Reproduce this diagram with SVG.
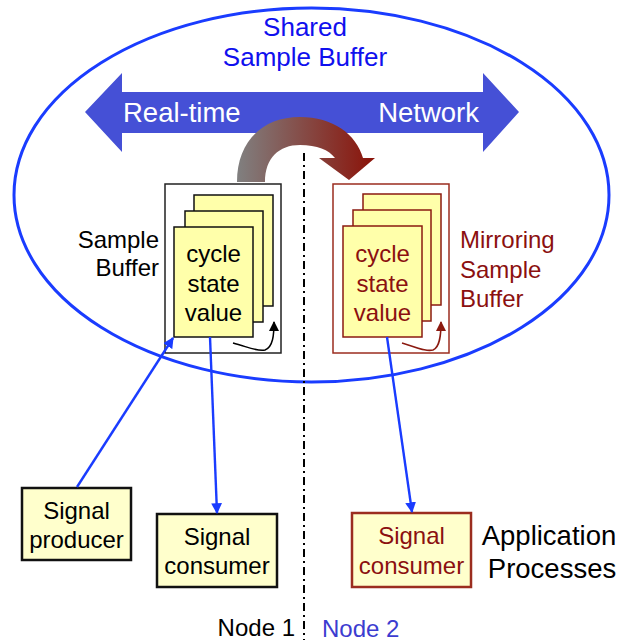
<svg xmlns="http://www.w3.org/2000/svg" width="628" height="644" viewBox="0 0 628 644">
<style>
text{font-family:"Liberation Sans",Arial,sans-serif;}
.t24{font-size:24px;}
.t27{font-size:27.5px;}
.blk{fill:#000;}
.red{fill:#8b1010;}
.card{fill:#ffffaa;stroke:#111;stroke-width:1.5;}
.cardr{fill:#ffffaa;stroke:#8b1a10;stroke-width:1.5;}
.proc{fill:#ffffcc;stroke:#111;stroke-width:2.5;}
.procr{fill:#ffffcc;stroke:#9b2d1f;stroke-width:2.5;}
.conn{stroke:#1a3cff;stroke-width:2.4;fill:none;marker-end:url(#ab);}
</style>
<defs>
<marker id="ab" viewBox="0 0 10 10" refX="9" refY="5" markerWidth="4.5" markerHeight="4.5" orient="auto" markerUnits="strokeWidth"><path d="M0,0 L10,5 L0,10 Z" fill="#1a3cff"/></marker>
<marker id="ak" viewBox="0 0 10 10" refX="9" refY="5" markerWidth="7" markerHeight="7" orient="auto" markerUnits="strokeWidth"><path d="M0,0 L10,5 L0,10 Z" fill="#000"/></marker>
<marker id="ar" viewBox="0 0 10 10" refX="9" refY="5" markerWidth="7" markerHeight="7" orient="auto" markerUnits="strokeWidth"><path d="M0,0 L10,5 L0,10 Z" fill="#8b1a10"/></marker>
<linearGradient id="gr" gradientUnits="userSpaceOnUse" x1="237" y1="0" x2="375" y2="0">
<stop offset="0" stop-color="#808080"/><stop offset="1" stop-color="#8b1208"/>
</linearGradient>
</defs>

<g id="shared-buffer">
<ellipse cx="311.5" cy="195" rx="297.5" ry="187" fill="none" stroke="#1a3cff" stroke-width="3"/>
<text x="305" y="36" text-anchor="middle" fill="#1010ee" font-size="26">Shared</text>
<text x="305" y="65.5" text-anchor="middle" fill="#1010ee" font-size="26">Sample Buffer</text>
</g>

<g id="double-arrow">
<polygon points="85,112 122,73 122,92 483,92 483,73 519,112 483,152 483,133 122,133 122,152" fill="#4550d6"/>
<text class="t27" x="123" y="122" fill="#fff">Real-time</text>
<text class="t27" x="479" y="122" text-anchor="end" fill="#fff">Network</text>
</g>

<g id="divider">
<line x1="304" y1="153" x2="304" y2="640" stroke="#000" stroke-width="2" stroke-dasharray="8 4 2 4"/>
</g>

<g id="sample-buffer">
<rect x="165" y="184" width="116" height="169" fill="#fff" stroke="#222" stroke-width="1.5"/>
<rect class="card" x="194" y="195" width="79" height="111"/>
<rect class="card" x="185" y="211" width="78" height="111"/>
<rect class="card" x="174" y="227" width="79" height="110"/>
<text class="t24 blk" x="213.5" y="262" text-anchor="middle">cycle</text>
<text class="t24 blk" x="213.5" y="292" text-anchor="middle">state</text>
<text class="t24 blk" x="213.5" y="321" text-anchor="middle">value</text>
<path d="M233,343 C248,347 258,352 265,350 C273,347 274,335 274,322" fill="none" stroke="#000" stroke-width="1.5" marker-end="url(#ak)"/>
<text class="t24 blk" x="159" y="248" text-anchor="end">Sample</text>
<text class="t24 blk" x="159" y="276" text-anchor="end">Buffer</text>
</g>

<g id="mirror-buffer">
<rect x="333" y="184" width="116" height="169" fill="#fff" stroke="#9b2d1f" stroke-width="1.5"/>
<rect class="cardr" x="363" y="194" width="78" height="111"/>
<rect class="cardr" x="353" y="210" width="78" height="111"/>
<rect class="cardr" x="343" y="226" width="79" height="111"/>
<text class="t24 red" x="382.5" y="262" text-anchor="middle">cycle</text>
<text class="t24 red" x="382.5" y="292" text-anchor="middle">state</text>
<text class="t24 red" x="382.5" y="321" text-anchor="middle">value</text>
<path d="M402,343 C416,347 426,352 433,350 C440,347 441,335 441,322" fill="none" stroke="#8b1a10" stroke-width="1.5" marker-end="url(#ar)"/>
<text class="t24 red" x="460" y="248">Mirroring</text>
<text class="t24 red" x="460" y="278">Sample</text>
<text class="t24 red" x="460" y="307">Buffer</text>
</g>

<g id="mirror-arrow">
<path d="M237,182 C237,142 262,117 300,117 C333,117 356,134 363,158 L375,158 L349,180 L319,158 L335,158 C329,150 317,145 300,145 C279,145 265,158 265,182 Z" fill="url(#gr)"/>
</g>

<g id="signal-producer">
<rect class="proc" x="22" y="488" width="109" height="72"/>
<text class="t24 blk" x="76.5" y="519" text-anchor="middle">Signal</text>
<text class="t24 blk" x="76.5" y="548" text-anchor="middle">producer</text>
</g>

<g id="signal-consumer-1">
<rect class="proc" x="157" y="514" width="120" height="73"/>
<text class="t24 blk" x="217" y="545" text-anchor="middle">Signal</text>
<text class="t24 blk" x="217" y="574" text-anchor="middle">consumer</text>
</g>

<g id="signal-consumer-2">
<rect class="procr" x="352" y="513" width="119" height="74"/>
<text class="t24 red" x="411.5" y="544" text-anchor="middle">Signal</text>
<text class="t24 red" x="411.5" y="574" text-anchor="middle">consumer</text>
</g>

<g id="labels">
<text class="t27 blk" x="549" y="545" text-anchor="middle">Application</text>
<text class="t27 blk" x="552" y="578" text-anchor="middle">Processes</text>
<text class="t24 blk" x="295" y="636" text-anchor="end">Node 1</text>
<text class="t24" x="322" y="637" fill="#3c3cd0">Node 2</text>
</g>

<g id="connectors">
<path class="conn" d="M77,487 L173,338"/>
<path class="conn" d="M210,337 L217,513"/>
<path class="conn" d="M387,337 L412,512"/>
</g>
</svg>
